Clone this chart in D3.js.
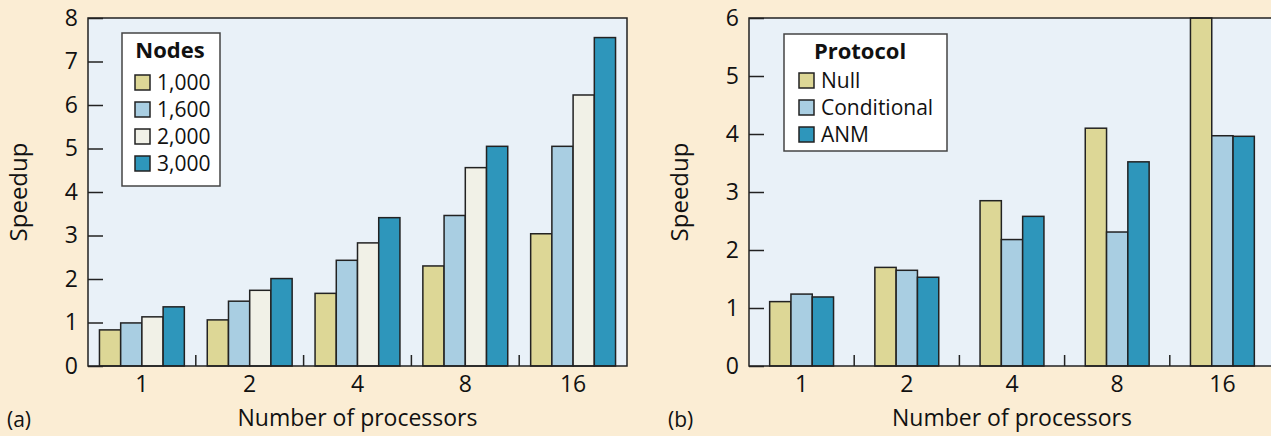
<!DOCTYPE html>
<html>
<head>
<meta charset="utf-8">
<script src="https://cdn.jsdelivr.net/npm/d3@7/dist/d3.min.js"></script>
<style>
	body { margin: 0; background: #fbedd4; }
	text { font-family: "Open Sans", "Noto Sans", sans-serif; fill: #111; }
</style>
</head>
<body>
<script>
	// data
	var processors = ['1', '2', '4', '8', '16'];

	// (a) speedup by number of nodes
	var nodeKeys = ['1,000', '1,600', '2,000', '3,000'];
	var nodes1000 = [0.83, 1.06, 1.67, 2.30, 3.04];
	var nodes1600 = [0.99, 1.49, 2.43, 3.46, 5.05];
	var nodes2000 = [1.13, 1.74, 2.83, 4.56, 6.23];
	var nodes3000 = [1.36, 2.01, 3.41, 5.05, 7.55];
	var ticksA = [0, 1, 2, 3, 4, 5, 6, 7, 8];

	// (b) speedup by protocol
	var protocolKeys = ['Null', 'Conditional', 'ANM'];
	var nullVals = [1.11, 1.70, 2.85, 4.10, 6.00];
	var condVals = [1.24, 1.65, 2.18, 2.31, 3.97];
	var anmVals = [1.19, 1.53, 2.58, 3.52, 3.96];
	var ticksB = [0, 1, 2, 3, 4, 5, 6];

	var palette = {
		yellow: '#ddd796',
		blue: '#a9cee2',
		cream: '#f1f1e7',
		teal: '#2e96bb'
	};

	var svg = d3.select('body').append('svg')
		.attr('width', 1271)
		.attr('height', 436);

	svg.append('rect')
		.attr('width', 1271)
		.attr('height', 436)
		.attr('fill', '#fbedd4');

	/**
	 * draw one grouped bar panel
	 */
	function panel(o) {
		var g = svg.append('g');

		var x = d3.scaleBand()
			.domain(processors)
			.range([o.left, o.right]);

		var xi = d3.scaleBand()
			.domain(o.keys)
			.range([0, x.bandwidth()])
			.paddingOuter(o.pad);

		var y = d3.scaleLinear()
			.domain([0, o.max])
			.range([o.bottom, o.top]);

		// plot background
		g.append('rect')
			.attr('x', o.left)
			.attr('y', o.top)
			.attr('width', o.right - o.left)
			.attr('height', o.bottom - o.top)
			.attr('fill', '#e9f1f8');

		// y axis, ticks pointing in
		var ya = g.append('g')
			.attr('transform', 'translate(' + o.left + ',0)')
			.call(d3.axisLeft(y).tickValues(o.ticks).tickFormat(d3.format('d'))
				.tickSize(-15).tickPadding(26));
		ya.select('.domain').remove();
		ya.selectAll('line').attr('stroke', '#222').attr('stroke-width', 1.5);
		ya.selectAll('text').attr('font-size', 23).attr('dx', 16);

		// bars
		var rows = processors.map(function(p, i) {
			return o.keys.map(function(k, j) {
				return { p: p, k: k, v: o.series[j][i], c: o.colors[j] };
			});
		});
		g.selectAll('g.grp')
			.data(rows)
			.enter()
			.append('g')
			.attr('class', 'grp')
			.attr('transform', function(d) {
				return 'translate(' + x(d[0].p) + ',0)';
			})
			.selectAll('rect')
			.data(function(d) { return d; })
			.enter()
			.append('rect')
			.attr('x', function(d) { return xi(d.k); })
			.attr('y', function(d) { return y(d.v); })
			.attr('width', xi.bandwidth())
			.attr('height', function(d) { return y(0) - y(d.v); })
			.attr('fill', function(d) { return d.c; })
			.attr('stroke', '#222')
			.attr('stroke-width', 1.5);

		// x axis labels
		var xa = g.append('g')
			.attr('transform', 'translate(0,' + o.bottom + ')')
			.call(d3.axisBottom(x).tickSize(0).tickPadding(10));
		xa.select('.domain').remove();
		xa.selectAll('text').attr('font-size', 23);

		// small ticks between groups
		g.selectAll('line.sep')
			.data(processors.slice(1))
			.enter()
			.append('line')
			.attr('class', 'sep')
			.attr('x1', function(d) { return x(d); })
			.attr('x2', function(d) { return x(d); })
			.attr('y1', o.bottom)
			.attr('y2', o.bottom - 11)
			.attr('stroke', '#222')
			.attr('stroke-width', 1.5);

		// frame
		g.append('path')
			.attr('d', o.closed
				? 'M' + o.left + ',' + o.top + 'H' + o.right + 'V' + o.bottom + 'H' + o.left + 'Z'
				: 'M' + o.right + ',' + o.top + 'H' + o.left + 'V' + o.bottom + 'H' + o.right)
			.attr('fill', 'none')
			.attr('stroke', '#222')
			.attr('stroke-width', 1.5);

		// axis titles
		g.append('text')
			.attr('transform', 'translate(' + o.ylabX + ',' + ((o.top + o.bottom) / 2) + ') rotate(-90)')
			.attr('text-anchor', 'middle')
			.attr('font-size', 24)
			.text('Speedup');
		g.append('text')
			.attr('x', (o.left + o.right) / 2)
			.attr('y', 426)
			.attr('text-anchor', 'middle')
			.attr('font-size', 23)
			.text('Number of processors');
		g.append('text')
			.attr('x', o.tagX)
			.attr('y', 427)
			.attr('font-size', 21)
			.text(o.tag);

		// legend
		var lg = g.append('g')
			.attr('transform', 'translate(' + o.leg.x + ',' + o.leg.y + ')');
		lg.append('rect')
			.attr('width', o.leg.w)
			.attr('height', o.leg.h)
			.attr('fill', '#fff')
			.attr('stroke', '#444')
			.attr('stroke-width', 1.5);
		lg.append('text')
			.attr('x', o.leg.titleX)
			.attr('y', 25)
			.attr('text-anchor', 'middle')
			.attr('font-size', 22)
			.attr('font-weight', 'bold')
			.text(o.leg.title);
		var item = lg.selectAll('g.item')
			.data(o.keys)
			.enter()
			.append('g')
			.attr('class', 'item')
			.attr('transform', function(d, i) {
				return 'translate(' + o.leg.sx + ',' + (o.leg.sy + i * 27) + ')';
			});
		item.append('rect')
			.attr('width', 15)
			.attr('height', 15)
			.attr('fill', function(d, i) { return o.colors[i]; })
			.attr('stroke', '#222')
			.attr('stroke-width', 1.5);
		item.append('text')
			.attr('x', 22)
			.attr('y', 15)
			.attr('font-size', 21)
			.text(function(d) { return d; });
	}

	panel({
		left: 88, right: 627, top: 18, bottom: 366,
		max: 8, ticks: ticksA, pad: 0.54, closed: true,
		keys: nodeKeys,
		series: [nodes1000, nodes1600, nodes2000, nodes3000],
		colors: [palette.yellow, palette.blue, palette.cream, palette.teal],
		ylabX: 27, tagX: 7, tag: '(a)',
		leg: { x: 122, y: 33, w: 98, h: 153, title: 'Nodes', titleX: 48, sx: 13, sy: 42 }
	});

	panel({
		left: 749, right: 1275, top: 18, bottom: 366,
		max: 6, ticks: ticksB, pad: 0.97, closed: false,
		keys: protocolKeys,
		series: [nullVals, condVals, anmVals],
		colors: [palette.yellow, palette.blue, palette.teal],
		ylabX: 688, tagX: 668, tag: '(b)',
		leg: { x: 784, y: 34, w: 163, h: 117, title: 'Protocol', titleX: 76, sx: 15, sy: 39 }
	});
</script>
</body>
</html>
